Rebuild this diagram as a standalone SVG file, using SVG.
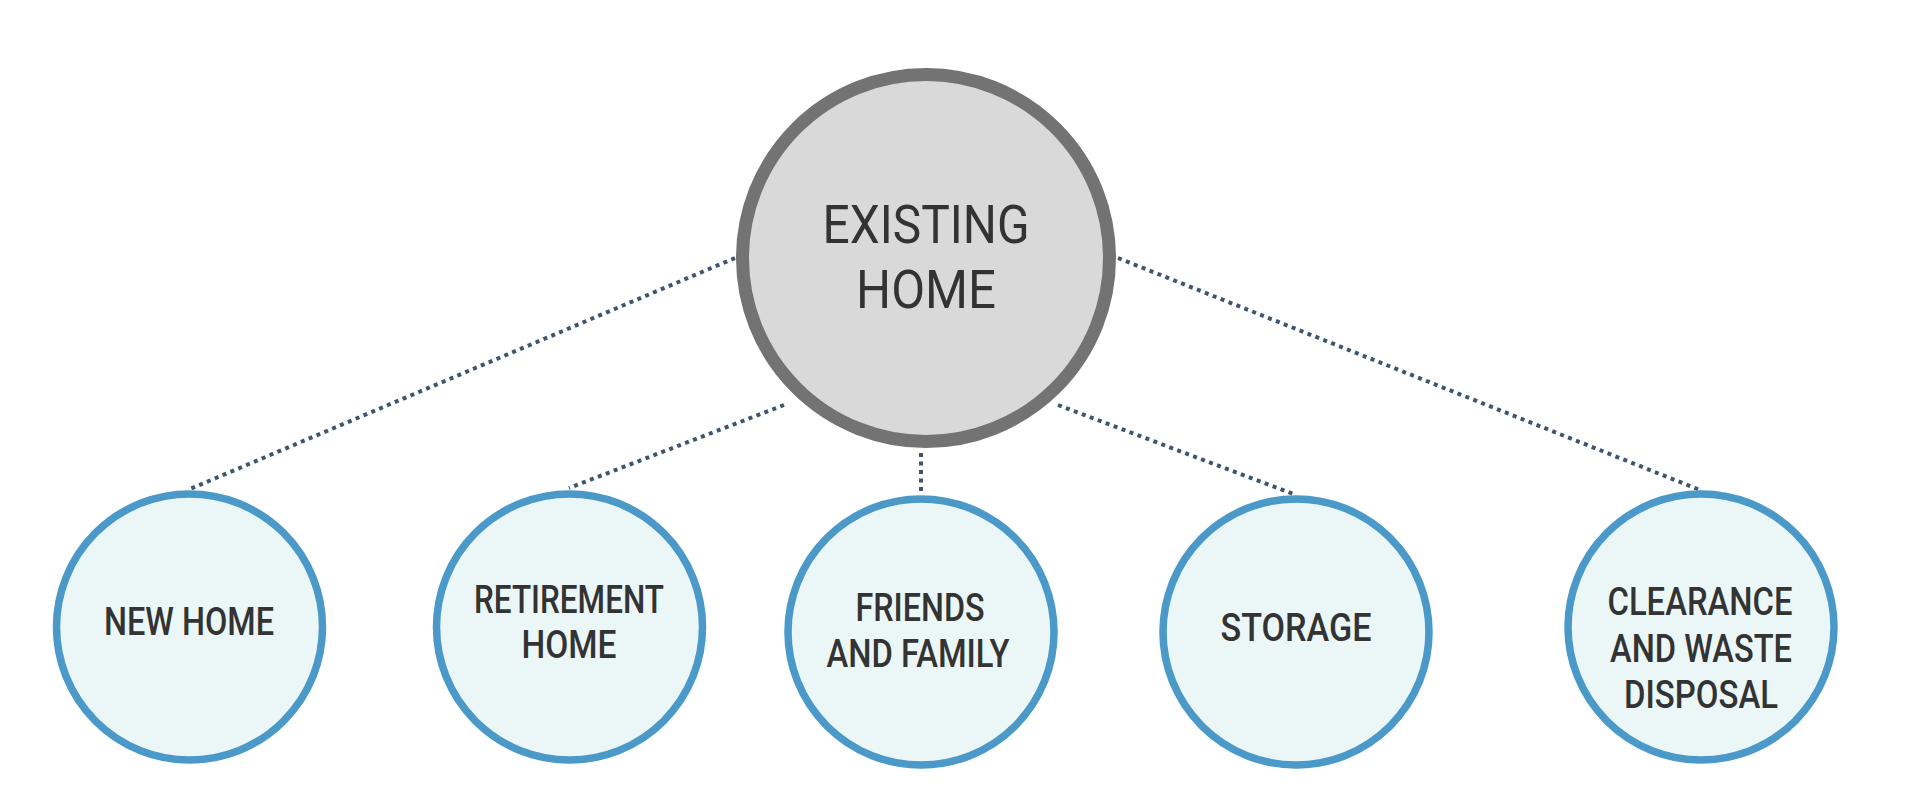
<svg xmlns="http://www.w3.org/2000/svg" width="1920" height="812" viewBox="0 0 1920 812">
<style>
.bg{fill:#ffffff}
.conn{stroke:#3d566e;stroke-width:4;stroke-dasharray:4 4.5;fill:none}
.main{fill:#d9d9d9;stroke:#737373;stroke-width:13}
.sub{fill:#ebf6f7;stroke:#4a99c9;stroke-width:7.5}
.lbl{font-family:Roboto,"Liberation Sans",sans-serif;fill:#333333;text-anchor:middle}
.big{font-size:53px}
.sm{font-size:38px;font-weight:500}
</style>
<rect class="bg" x="0" y="0" width="1920" height="812"/>
<g id="connectors">
<line class="conn" x1="735" y1="258" x2="190" y2="489"/>
<line class="conn" x1="784" y1="405" x2="569" y2="488"/>
<line class="conn" x1="921" y1="453" x2="921" y2="492"/>
<line class="conn" x1="1058" y1="405" x2="1296" y2="495"/>
<line class="conn" x1="1118" y1="258" x2="1700" y2="490"/>
</g>
<g id="existing-home">
<circle class="main" cx="926" cy="258" r="183.5"/>
<text class="lbl big" x="926" y="243" textLength="207" lengthAdjust="spacingAndGlyphs">EXISTING</text>
<text class="lbl big" x="926" y="308" textLength="140" lengthAdjust="spacingAndGlyphs">HOME</text>
</g>
<g id="new-home">
<circle class="sub" cx="189.5" cy="627" r="133"/>
<text class="lbl sm" x="189" y="635" textLength="170" lengthAdjust="spacingAndGlyphs">NEW HOME</text>
</g>
<g id="retirement-home">
<circle class="sub" cx="569.5" cy="627" r="133"/>
<text class="lbl sm" x="569" y="613" textLength="190" lengthAdjust="spacingAndGlyphs">RETIREMENT</text>
<text class="lbl sm" x="569" y="658" textLength="95" lengthAdjust="spacingAndGlyphs">HOME</text>
</g>
<g id="friends-and-family">
<circle class="sub" cx="921" cy="632" r="133"/>
<text class="lbl sm" x="920" y="621" textLength="129" lengthAdjust="spacingAndGlyphs">FRIENDS</text>
<text class="lbl sm" x="918" y="667" textLength="183" lengthAdjust="spacingAndGlyphs">AND FAMILY</text>
</g>
<g id="storage">
<circle class="sub" cx="1296" cy="632" r="133"/>
<text class="lbl sm" x="1296" y="641" textLength="151" lengthAdjust="spacingAndGlyphs">STORAGE</text>
</g>
<g id="clearance">
<circle class="sub" cx="1701" cy="627" r="133"/>
<text class="lbl sm" x="1700" y="615" textLength="185" lengthAdjust="spacingAndGlyphs">CLEARANCE</text>
<text class="lbl sm" x="1701" y="662" textLength="182" lengthAdjust="spacingAndGlyphs">AND WASTE</text>
<text class="lbl sm" x="1701" y="708" textLength="154" lengthAdjust="spacingAndGlyphs">DISPOSAL</text>
</g>
</svg>
